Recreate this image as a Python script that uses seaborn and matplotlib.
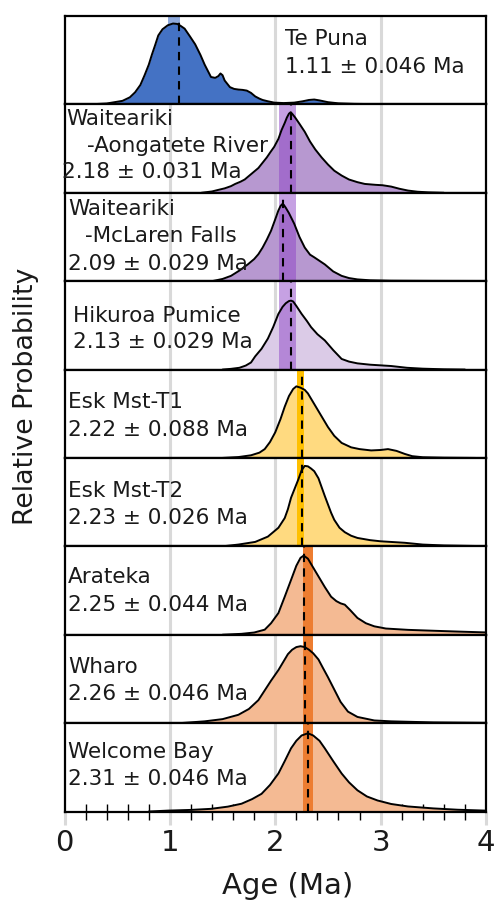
import numpy as np
import pandas as pd
import matplotlib
matplotlib.use("Agg")
import matplotlib.pyplot as plt
from matplotlib.ticker import MultipleLocator
import seaborn as sns

# ---------------- data ----------------
names = ["Te Puna", "Waiteariki -Aongatete River", "Waiteariki -McLaren Falls",
         "Hikuroa Pumice", "Esk Mst-T1", "Esk Mst-T2", "Arateka", "Wharo", "Welcome Bay"]
name_lines = [["Te Puna"], ["Waiteariki", "-Aongatete River"], ["Waiteariki", "-McLaren Falls"],
              ["Hikuroa Pumice"], ["Esk Mst-T1"], ["Esk Mst-T2"], ["Arateka"], ["Wharo"], ["Welcome Bay"]]
means = [1.11, 2.18, 2.09, 2.13, 2.22, 2.23, 2.25, 2.26, 2.31]
errors = [0.046, 0.031, 0.029, 0.029, 0.088, 0.026, 0.044, 0.046, 0.046]
dash_age = [1.09, 2.15, 2.07, 2.15, 2.255, 2.255, 2.27, 2.28, 2.31]
band_lo = [0.98, 2.04, 2.04, 2.04, 2.21, 2.21, 2.26, 2.26, 2.26]
band_hi = [1.10, 2.20, 2.20, 2.20, 2.27, 2.27, 2.36, 2.36, 2.36]

te_puna = [(0.23, 0.0), (0.40, 0.01), (0.55, 0.04), (0.62, 0.08), (0.67, 0.137), (0.72, 0.22),
           (0.76, 0.33), (0.80, 0.45), (0.83, 0.565), (0.86, 0.67), (0.89, 0.78), (0.93, 0.85),
           (0.98, 0.895), (1.03, 0.915), (1.07, 0.91), (1.10, 0.89), (1.14, 0.857), (1.19, 0.77),
           (1.24, 0.68), (1.29, 0.56), (1.33, 0.45), (1.36, 0.38), (1.39, 0.31), (1.43, 0.30),
           (1.46, 0.32), (1.48, 0.35), (1.50, 0.33), (1.52, 0.27), (1.57, 0.195), (1.61, 0.175),
           (1.65, 0.168), (1.69, 0.164), (1.73, 0.156), (1.77, 0.13), (1.81, 0.09), (1.85, 0.065),
           (1.88, 0.05), (1.93, 0.035), (1.99, 0.02), (2.08, 0.015), (2.18, 0.02), (2.26, 0.035),
           (2.32, 0.05), (2.37, 0.055), (2.42, 0.045), (2.50, 0.025), (2.60, 0.012), (2.75, 0.006),
           (2.95, 0.003), (3.15, 0.0)]
aongatete = [(1.30, 0.0), (1.40, 0.015), (1.45, 0.03), (1.52, 0.05), (1.58, 0.075), (1.62, 0.10),
             (1.67, 0.125), (1.71, 0.15), (1.74, 0.18), (1.79, 0.23), (1.84, 0.28), (1.88, 0.34),
             (1.92, 0.40), (1.96, 0.47), (1.99, 0.52), (2.03, 0.61), (2.06, 0.71), (2.09, 0.79),
             (2.11, 0.85), (2.13, 0.895), (2.145, 0.91), (2.16, 0.895), (2.19, 0.85), (2.23, 0.78),
             (2.28, 0.69), (2.33, 0.58), (2.38, 0.49), (2.44, 0.40), (2.50, 0.32), (2.56, 0.25),
             (2.63, 0.195), (2.70, 0.15), (2.78, 0.12), (2.85, 0.10), (2.95, 0.09), (3.02, 0.085),
             (3.10, 0.07), (3.18, 0.045), (3.26, 0.025), (3.35, 0.012), (3.45, 0.005), (3.60, 0.0)]
mclaren = [(1.40, 0.0), (1.50, 0.025), (1.58, 0.06), (1.66, 0.12), (1.74, 0.19), (1.80, 0.25),
           (1.84, 0.305), (1.88, 0.38), (1.92, 0.47), (1.96, 0.57), (2.00, 0.70), (2.03, 0.80),
           (2.05, 0.85), (2.065, 0.87), (2.08, 0.865), (2.10, 0.83), (2.13, 0.77), (2.18, 0.65),
           (2.23, 0.50), (2.28, 0.38), (2.33, 0.30), (2.37, 0.27), (2.42, 0.23), (2.47, 0.19),
           (2.55, 0.11), (2.63, 0.06), (2.70, 0.035), (2.78, 0.02), (2.90, 0.01), (3.10, 0.005),
           (3.50, 0.003), (4.00, 0.002)]
hikuroa = [(1.50, 0.0), (1.58, 0.008), (1.66, 0.02), (1.72, 0.045), (1.77, 0.08), (1.81, 0.15),
           (1.87, 0.235), (1.93, 0.35), (1.98, 0.48), (2.03, 0.63), (2.07, 0.71), (2.10, 0.75),
           (2.13, 0.775), (2.15, 0.78), (2.17, 0.77), (2.20, 0.72), (2.25, 0.63), (2.30, 0.55),
           (2.34, 0.48), (2.40, 0.40), (2.47, 0.33), (2.55, 0.22), (2.63, 0.12), (2.70, 0.09),
           (2.78, 0.07), (2.90, 0.055), (3.10, 0.04), (3.25, 0.02), (3.40, 0.01), (3.60, 0.003),
           (3.80, 0.0)]
esk_t1 = [(1.50, 0.0), (1.65, 0.01), (1.77, 0.03), (1.85, 0.06), (1.90, 0.10), (1.95, 0.18),
          (2.00, 0.29), (2.05, 0.44), (2.09, 0.58), (2.13, 0.70), (2.17, 0.78), (2.20, 0.81),
          (2.24, 0.795), (2.28, 0.77), (2.31, 0.73), (2.36, 0.63), (2.40, 0.55), (2.44, 0.47),
          (2.50, 0.35), (2.56, 0.25), (2.63, 0.17), (2.72, 0.12), (2.80, 0.10), (2.91, 0.085),
          (3.00, 0.09), (3.07, 0.10), (3.15, 0.08), (3.23, 0.045), (3.30, 0.02), (3.40, 0.008),
          (3.60, 0.003), (3.90, 0.0)]
esk_t2 = [(1.50, 0.0), (1.65, 0.02), (1.81, 0.05), (1.93, 0.11), (2.03, 0.21), (2.09, 0.32),
          (2.12, 0.42), (2.15, 0.55), (2.18, 0.64), (2.20, 0.70), (2.22, 0.76), (2.25, 0.86),
          (2.28, 0.91), (2.31, 0.905), (2.34, 0.88), (2.37, 0.85), (2.41, 0.77), (2.44, 0.67),
          (2.47, 0.57), (2.50, 0.475), (2.53, 0.38), (2.56, 0.30), (2.61, 0.21), (2.66, 0.16),
          (2.72, 0.12), (2.78, 0.095), (2.90, 0.07), (3.00, 0.057), (3.23, 0.04), (3.40, 0.02),
          (3.60, 0.01), (3.90, 0.004)]
arateka = [(1.50, 0.0), (1.68, 0.01), (1.80, 0.025), (1.90, 0.057), (1.96, 0.13), (2.03, 0.245),
           (2.09, 0.43), (2.15, 0.62), (2.20, 0.78), (2.24, 0.87), (2.27, 0.895), (2.31, 0.86),
           (2.36, 0.76), (2.41, 0.66), (2.47, 0.54), (2.53, 0.43), (2.58, 0.38), (2.62, 0.355),
           (2.66, 0.34), (2.71, 0.28), (2.78, 0.19), (2.86, 0.13), (2.94, 0.095), (3.05, 0.07),
           (3.26, 0.055), (3.50, 0.045), (3.75, 0.035), (4.00, 0.026)]
wharo = [(1.10, 0.0), (1.33, 0.02), (1.50, 0.045), (1.65, 0.094), (1.75, 0.16), (1.84, 0.26),
         (1.90, 0.37), (1.96, 0.48), (2.03, 0.60), (2.08, 0.70), (2.12, 0.78), (2.16, 0.83),
         (2.20, 0.86), (2.24, 0.87), (2.28, 0.86), (2.32, 0.83), (2.36, 0.79), (2.41, 0.72),
         (2.45, 0.63), (2.50, 0.52), (2.56, 0.38), (2.62, 0.24), (2.69, 0.13), (2.78, 0.07),
         (2.94, 0.03), (3.10, 0.02), (3.50, 0.008), (4.00, 0.003)]
welcome_bay = [(0.80, 0.0), (0.98, 0.01), (1.20, 0.018), (1.39, 0.03), (1.55, 0.055), (1.68, 0.088),
               (1.78, 0.14), (1.87, 0.20), (1.95, 0.30), (2.03, 0.43), (2.09, 0.57), (2.15, 0.715),
               (2.20, 0.80), (2.25, 0.86), (2.31, 0.885), (2.36, 0.86), (2.42, 0.80), (2.47, 0.715),
               (2.55, 0.57), (2.63, 0.43), (2.70, 0.33), (2.78, 0.24), (2.87, 0.17), (2.97, 0.125),
               (3.10, 0.085), (3.26, 0.057), (3.50, 0.035), (3.73, 0.02), (4.00, 0.01)]
curves = [te_puna, aongatete, mclaren, hikuroa, esk_t1, esk_t2, arateka, wharo, welcome_bay]
x_ticks = [0, 1, 2, 3, 4]

# ---------------- styles ----------------
fill_colors = ["#4472C4", "#B798D0", "#B798D0", "#DBCBE7", "#FFDA80", "#FFDA80",
               "#F4BA93", "#F4BA93", "#F4BA93"]
band_colors = ["#8FAADC", "#8E44C8", "#8E44C8", "#8E44C8", "#FFC000", "#FFC000",
               "#ED7D31", "#ED7D31", "#ED7D31"]
band_alpha = [1, 0.5, 0.5, 0.5, 1, 1, 1, 1, 1]
band_behind = [True, False, False, False, False, False, False, False, False]
# text layout in pixels: (x_left, baseline) for each line
text_pos = [[(285, 45), (285, 73.3)],
            [(66.7, 125), (86.7, 151.7), (61.7, 178.3)],
            [(68.3, 215), (85, 241.7), (68.3, 270)],
            [(73.3, 321.7), (73.3, 348)],
            [(68.3, 408.3), (68.3, 436)],
            [(68.3, 496.7), (68.3, 524)],
            [(68.3, 583.3), (68.3, 610.7)],
            [(68.3, 673.3), (68.3, 700)],
            [(68.3, 758.3), (68.3, 785)]]

sns.set_theme(style="white")
plt.rcParams["font.family"] = ["DejaVu Sans"]

W, H = 498, 901
fig = plt.figure(figsize=(W / 100, H / 100), dpi=100)
axes = fig.subplots(9, 1, sharex=True,
                    gridspec_kw=dict(hspace=0, left=64.5 / W, right=486 / W,
                                     top=1 - 16 / H, bottom=1 - 811.5 / H))

for i, ax in enumerate(axes):
    df = pd.DataFrame(curves[i], columns=["age", "density"])
    for g in x_ticks[1:-1]:
        ax.axvline(g, color="#d9d9d9", lw=2.2, zorder=0)
    zb = 1 if band_behind[i] else 3
    ax.axvspan(band_lo[i], band_hi[i], color=band_colors[i], alpha=band_alpha[i], lw=0, zorder=zb)
    ax.fill_between(df["age"], df["density"], color=fill_colors[i], lw=0, zorder=2)
    sns.lineplot(data=df, x="age", y="density", ax=ax, color="black", lw=1.4, zorder=4)
    ax.axvline(dash_age[i], color="black", ls=(0, (4, 3)), lw=1.5, zorder=5)
    ax.set_xlim(0, 4)
    ax.set_ylim(0, 1)
    ax.set_yticks([])
    ax.set_xlabel("")
    ax.set_ylabel("")
    ax.set_facecolor("white")
    for s in ax.spines.values():
        s.set_visible(True)
        s.set_color("black")
        s.set_linewidth(1.6)
        s.set_zorder(6)
    ax.tick_params(axis="x", which="both", bottom=False, labelbottom=False)

    lines = name_lines[i] + [f"{means[i]:.2f} \u00b1 {errors[i]:.3f} Ma"]
    for (px, py), s in zip(text_pos[i], lines):
        fig.text(px / W, 1 - py / H, s, fontsize=15.5, ha="left", va="baseline", color="#1a1a1a")

axb = axes[-1]
axb.set_xticks(x_ticks)
axb.xaxis.set_minor_locator(MultipleLocator(0.2))
axb.tick_params(axis="x", which="major", bottom=True, labelbottom=True, length=9.5, width=2.2,
                color="#d9d9d9", direction="out", labelsize=21, pad=3, labelcolor="#1a1a1a")
axb.tick_params(axis="x", which="minor", bottom=True, length=11, width=1.0,
                color="black", direction="inout")

fig.text(288 / W, 1 - 894 / H, "Age (Ma)", fontsize=21, ha="center", va="baseline", color="#1a1a1a")
fig.text(26 / W, 1 - 396.7 / H, "Relative Probability", fontsize=19.3, rotation=90,
         ha="center", va="center", color="#1a1a1a")

fig.savefig("out.png", dpi=100, facecolor="white")
